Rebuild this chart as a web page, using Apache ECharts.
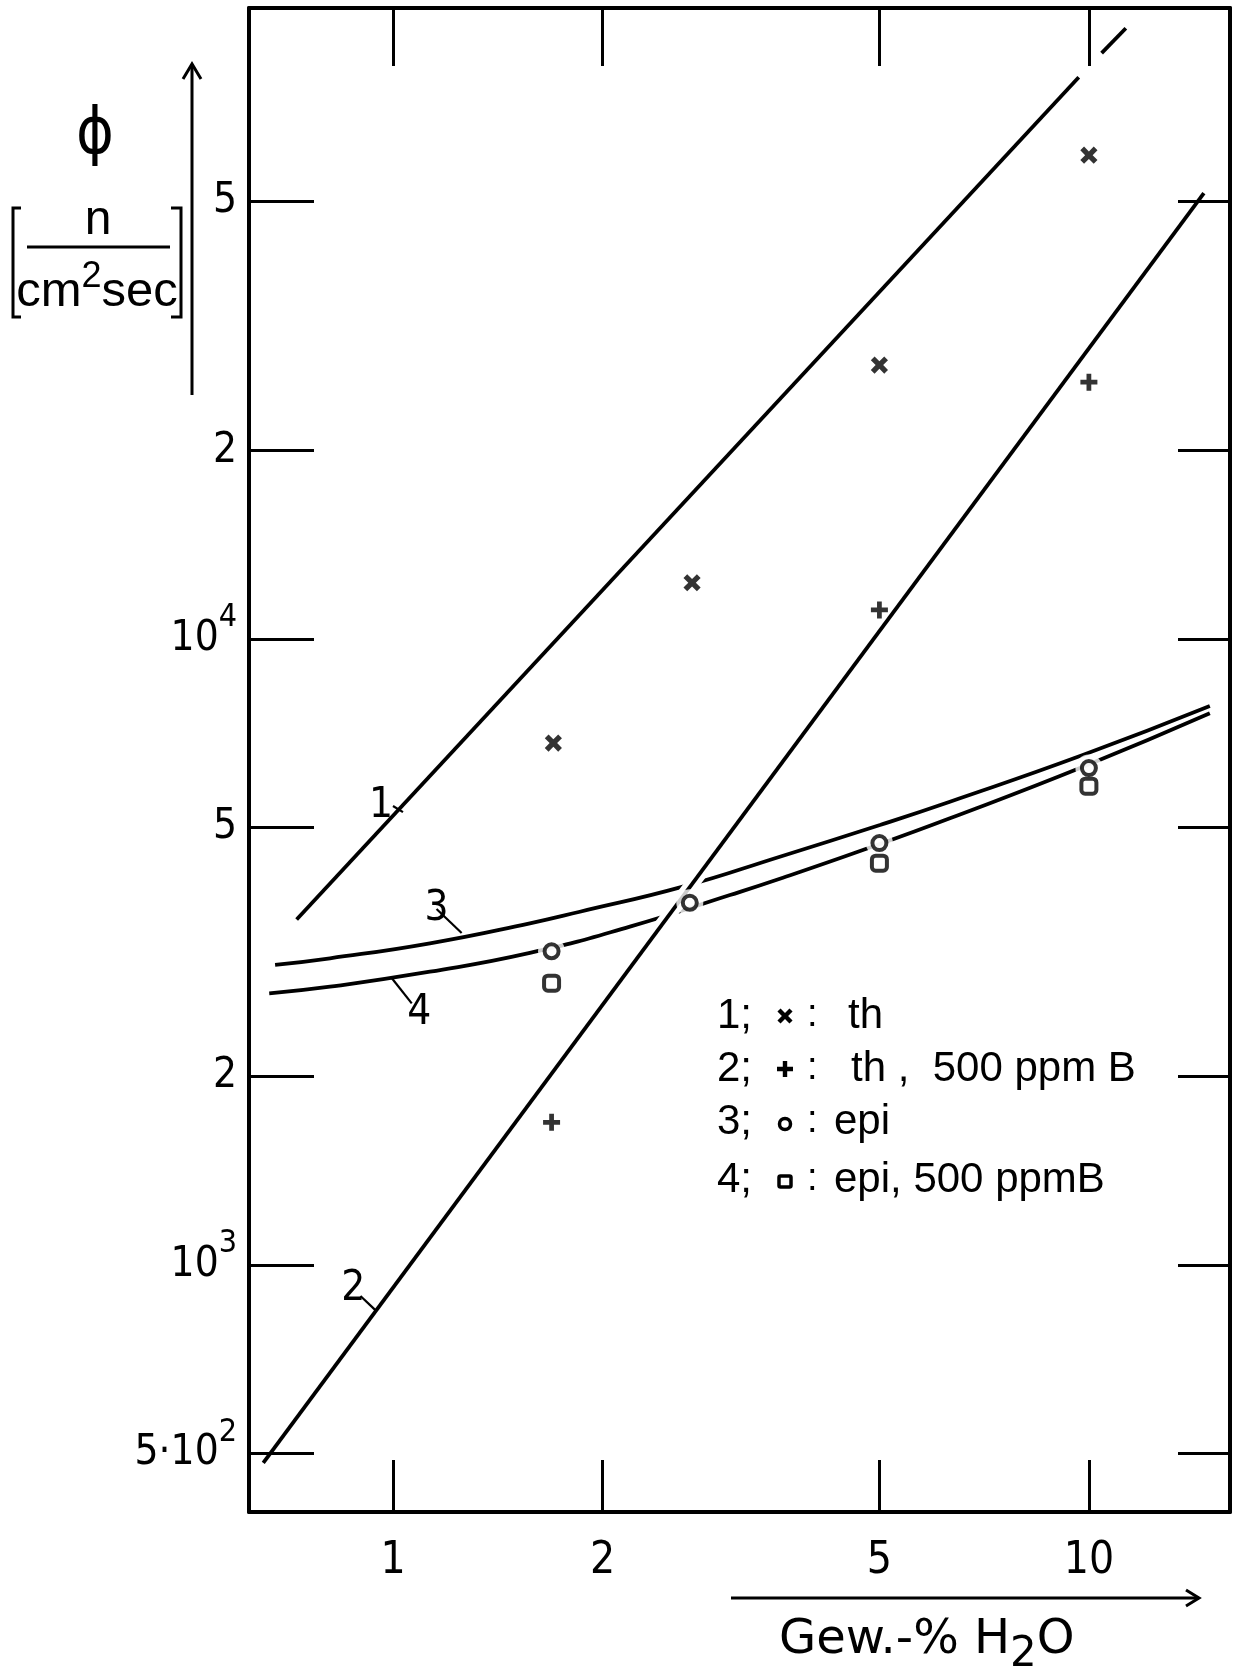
<!DOCTYPE html>
<html>
<head>
<meta charset="utf-8">
<title>Neutronenfluss in Abhängigkeit vom Wassergehalt</title>
<script src="https://cdn.jsdelivr.net/npm/echarts@6/dist/echarts.min.js"></script>
<style>
  html, body { margin: 0; padding: 0; background: #fff; }
  #chart { width: 1234px; height: 1673px; }
</style>
</head>
<body>
<div id="chart"></div>
<script>
// ---- axes: water content (Gew.-% H2O) and neutron flux, both logarithmic ----
const xRange = [0.621, 15.95];
const xTicks = [1, 2, 5, 10];
const xTickLabels = ['1', '2', '5', '10'];

const yRange = [403, 101900];
const yTicks = [500, 1000, 2000, 5000, 10000, 20000, 50000];
const yTickLabels = ['5·10^2', '10^3', '2', '5', '10^4', '2', '5'];

// ---- measured fluxes ----
// 1; x : thermal
const thX = [1.70, 2.69, 5.0, 10.0];
const thY = [6820, 12300, 27400, 59300];
// 2; + : thermal, 500 ppm B
const thBX = [1.69, 5.0, 10.0];
const thBY = [1690, 11130, 25730];
// 3; o : epithermal
const epiX = [1.69, 2.67, 5.0, 10.0];
const epiY = [3170, 3790, 4720, 6220];
// 4; square : epithermal, 500 ppm B
const epiBX = [1.69, 5.0, 10.0];
const epiBY = [2820, 4385, 5820];

// ---- drawn curves ----
// curve 1 is interrupted where it meets the upper tick at 10
const curve1aX = [0.727, 9.67];
const curve1aY = [3563, 79000];
const curve1bX = [10.43, 11.30];
const curve1bY = [86300, 94600];
const curve2X = [0.651, 14.63];
const curve2Y = [483, 51580];
const curve3X = [0.677, 0.812, 1.130, 1.573, 1.856, 2.610, 3.597, 5.009, 6.314, 9.80, 14.92];
const curve3Y = [3015, 3090, 3265, 3514, 3667, 4021, 4490, 5046, 5497, 6526, 7816];
const curve4X = [0.664, 0.812, 1.130, 1.573, 2.190, 3.050, 3.597, 4.734, 6.314, 9.87, 14.92];
const curve4Y = [2716, 2783, 2941, 3151, 3471, 3899, 4140, 4601, 5171, 6267, 7608];

// ---- curve number tags: leader from the curve out to the number ----
const tag1 = [[1.0336, 5290], [1.0, 5410]];
const tag2 = [[0.9434, 847], [0.898, 892]];
const tag3 = [[1.255, 3392], [1.155, 3705]];
const tag4 = [[0.9957, 2874], [1.064, 2618]];

const NARROW = '"Liberation Sans Narrow", "DejaVu Sans Condensed", sans-serif';
const SANS = '"Liberation Sans", Arial, sans-serif';
const WIDE = '"DejaVu Sans", sans-serif';
const INK = '#000';

const lg = v => Math.log10(v);
const pairs = (xs, ys) => xs.map((x, i) => [x, ys[i]]);
const lookup = (ticks, labels) => v => {
  const i = ticks.findIndex(t => Math.abs(lg(t) - v) < 1e-6);
  return i < 0 ? '' : labels[i];
};
const xLabelOf = lookup(xTicks, xTickLabels);
const yLabelOf = lookup(yTicks, yTickLabels);

function tagLine(seg, text, dist) {
  return {
    silent: true,
    symbol: ['none', 'none'],
    animation: false,
    lineStyle: { color: INK, width: 2.2, type: 'solid' },
    label: {
      show: true, position: 'end', distance: dist, formatter: text,
      fontFamily: NARROW, fontSize: 42, color: INK
    },
    emphasis: { disabled: true },
    data: [[{ coord: seg[0] }, { coord: seg[1] }]]
  };
}

const lineStyleMain = { color: INK, width: 3.8 };
const plusPath = 'path://M3.6,0H6.4V3.6H10V6.4H6.4V10H3.6V6.4H0V3.6H3.6Z';

const axisCommon = {
  type: 'value',
  z: 10,
  splitLine: { show: false },
  axisLine: { show: true, onZero: false, lineStyle: { color: INK, width: 4 } }
};

// cross-shaped polygon for the key, half-size h, half arm width w
const crossPts = (h, w) => [[-w, -h], [w, -h], [w, -w], [h, -w], [h, w], [w, w], [w, h], [-w, h], [-w, w], [-h, w], [-h, -w], [-w, -w]];
const keyText = (x, y, text, font) => ({ type: 'text', x, y, style: { text, font, fill: INK, verticalAlign: 'middle' } });
const keyRows = [1016, 1069, 1122, 1180];

const chart = echarts.init(document.getElementById('chart'), null, { renderer: 'canvas' });

chart.setOption({
  animation: false,
  backgroundColor: '#fff',
  grid: { left: 249, right: 4, top: 8, bottom: 161, containLabel: false },
  xAxis: [
    { type: 'log', logBase: 10, min: xRange[0], max: xRange[1], show: false, position: 'bottom' },
    Object.assign({}, axisCommon, {
      position: 'bottom', min: lg(xRange[0]), max: lg(xRange[1]),
      axisTick: { show: true, inside: true, length: 52, customValues: xTicks.map(lg),
        lineStyle: { color: INK, width: 3 } },
      axisLabel: { show: true, customValues: xTicks.map(lg), margin: 28, formatter: xLabelOf,
        fontFamily: NARROW, fontSize: 44, color: INK }
    }),
    Object.assign({}, axisCommon, {
      position: 'top', min: lg(xRange[0]), max: lg(xRange[1]),
      axisTick: { show: true, inside: true, length: 58, customValues: xTicks.map(lg),
        lineStyle: { color: INK, width: 3 } },
      axisLabel: { show: false }
    })
  ],
  yAxis: [
    { type: 'log', logBase: 10, min: yRange[0], max: yRange[1], show: false, position: 'left' },
    Object.assign({}, axisCommon, {
      position: 'left', min: lg(yRange[0]), max: lg(yRange[1]),
      axisTick: { show: true, inside: true, length: 65, customValues: yTicks.map(lg),
        lineStyle: { color: INK, width: 3 } },
      axisLabel: {
        show: true, customValues: yTicks.map(lg), margin: 12,
        formatter: v => {
          const [b, e] = yLabelOf(v).split('^');
          return e ? `{b|${b}}{s|${e}}` : `{b|${b}}`;
        },
        rich: {
          b: { fontFamily: NARROW, fontSize: 42, color: INK },
          s: { fontFamily: NARROW, fontSize: 32, color: INK, padding: [0, 0, 42, 0] }
        }
      }
    }),
    Object.assign({}, axisCommon, {
      position: 'right', min: lg(yRange[0]), max: lg(yRange[1]),
      axisTick: { show: true, inside: true, length: 52, customValues: yTicks.map(lg),
        lineStyle: { color: INK, width: 3 } },
      axisLabel: { show: false }
    })
  ],
  series: [
    { name: 'Kurve 3', type: 'line', smooth: true, symbol: 'none', z: 2,
      data: pairs(curve3X, curve3Y), lineStyle: lineStyleMain, markLine: tagLine(tag3, '3', 0) },
    { name: 'Kurve 4', type: 'line', smooth: true, symbol: 'none', z: 2,
      data: pairs(curve4X, curve4Y), lineStyle: lineStyleMain, markLine: tagLine(tag4, '4', 12) },
    // white casing so the flatter curves break where curve 2 crosses them
    { name: 'Kurve 2 Rand', type: 'line', symbol: 'none', z: 3, silent: true,
      data: pairs(curve2X, curve2Y), lineStyle: { color: '#fff', width: 14 } },
    { name: 'Kurve 2', type: 'line', symbol: 'none', z: 4,
      data: pairs(curve2X, curve2Y), lineStyle: lineStyleMain, markLine: tagLine(tag2, '2', 10) },
    { name: 'Kurve 1', type: 'line', symbol: 'none', z: 4,
      data: pairs(curve1aX, curve1aY), lineStyle: lineStyleMain, markLine: tagLine(tag1, '1', 0) },
    { name: 'Kurve 1b', type: 'line', symbol: 'none', z: 4,
      data: pairs(curve1bX, curve1bY), lineStyle: lineStyleMain },
    // white halo behind the open circles
    { name: 'epi Rand', type: 'scatter', symbol: 'circle', symbolSize: 27, z: 5, silent: true,
      data: pairs(epiX, epiY), itemStyle: { color: '#fff' } },
    { name: 'th', type: 'scatter', symbol: plusPath, symbolRotate: 45, symbolSize: 19, z: 6,
      data: pairs(thX, thY), itemStyle: { color: INK } },
    { name: 'th, 500 ppm B', type: 'scatter', symbol: plusPath, symbolSize: 17, z: 6,
      data: pairs(thBX, thBY), itemStyle: { color: INK } },
    { name: 'epi', type: 'scatter', symbol: 'circle', symbolSize: 14, z: 6,
      data: pairs(epiX, epiY), itemStyle: { color: '#fff', borderColor: INK, borderWidth: 4 } },
    { name: 'epi, 500 ppm B', type: 'scatter', symbol: 'roundRect', symbolSize: 15, z: 6,
      data: pairs(epiBX, epiBY), itemStyle: { color: '#fff', borderColor: INK, borderWidth: 4 } }
  ],
  graphic: [
    // axis title: flux phi with unit and arrow
    { type: 'text', z: 20, x: 95, y: 136,
      style: { text: 'ϕ', font: `64px ${NARROW}`, fill: INK, align: 'center', verticalAlign: 'middle' } },
    { type: 'polyline', z: 20, shape: { points: [[21, 208], [13, 208], [13, 317], [21, 317]] },
      style: { stroke: INK, lineWidth: 3, fill: null } },
    { type: 'polyline', z: 20, shape: { points: [[171, 208], [181, 208], [181, 317], [171, 317]] },
      style: { stroke: INK, lineWidth: 3, fill: null } },
    { type: 'line', z: 20, shape: { x1: 27, y1: 247, x2: 170, y2: 247 },
      style: { stroke: INK, lineWidth: 3 } },
    { type: 'text', z: 20, x: 98, y: 221,
      style: { text: 'n', font: `48px ${SANS}`, fill: INK, align: 'center', verticalAlign: 'middle' } },
    { type: 'text', z: 20, x: 97, y: 292,
      style: {
        text: '{a|cm}{b|2}{a|sec}', align: 'center', verticalAlign: 'middle',
        rich: {
          a: { fontFamily: SANS, fontSize: 49, fill: INK },
          b: { fontFamily: SANS, fontSize: 36, fill: INK, padding: [0, 0, 30, 0] }
        }
      } },
    { type: 'line', z: 20, shape: { x1: 192, y1: 395, x2: 192, y2: 64 },
      style: { stroke: INK, lineWidth: 3 } },
    { type: 'polyline', z: 20, shape: { points: [[183, 79], [192, 64], [201, 79]] },
      style: { stroke: INK, lineWidth: 3, fill: null } },

    // axis title: water content with arrow
    { type: 'line', z: 20, shape: { x1: 731, y1: 1598, x2: 1199, y2: 1598 },
      style: { stroke: INK, lineWidth: 3 } },
    { type: 'polyline', z: 20, shape: { points: [[1186, 1590], [1199, 1598], [1186, 1606]] },
      style: { stroke: INK, lineWidth: 3, fill: null } },
    { type: 'text', z: 20, x: 779, y: 1641,
      style: {
        text: '{t|Gew.-% H}{s|2}{t|O}', verticalAlign: 'middle',
        rich: {
          t: { fontFamily: WIDE, fontSize: 48, fill: INK },
          s: { fontFamily: WIDE, fontSize: 42, fill: INK, padding: [28, 0, 0, 0] }
        }
      } },

    // key
    { type: 'group', z: 20, children: [
      keyText(717, keyRows[0], '1;', `42px ${SANS}`),
      keyText(717, keyRows[1], '2;', `42px ${SANS}`),
      keyText(717, keyRows[2], '3;', `42px ${SANS}`),
      keyText(717, keyRows[3], '4;', `42px ${SANS}`),

      { type: 'polygon', x: 785, y: keyRows[0], rotation: Math.PI / 4, style: { fill: INK },
        shape: { points: crossPts(8.5, 2.2) } },
      { type: 'polygon', x: 785, y: keyRows[1], style: { fill: INK },
        shape: { points: crossPts(8, 2.2) } },
      { type: 'circle', shape: { cx: 785, cy: keyRows[2] + 2, r: 5.5 }, style: { fill: '#fff', stroke: INK, lineWidth: 3.5 } },
      { type: 'rect', shape: { x: 779, y: keyRows[3] - 4, width: 12, height: 11, r: 1.5 }, style: { fill: '#fff', stroke: INK, lineWidth: 3.5 } },

      keyText(807, keyRows[0], ':', `38px ${SANS}`),
      keyText(807, keyRows[1], ':', `38px ${SANS}`),
      keyText(807, keyRows[2], ':', `38px ${SANS}`),
      keyText(807, keyRows[3], ':', `38px ${SANS}`),

      keyText(848, keyRows[0], 'th', `42px ${SANS}`),
      keyText(851, keyRows[1], 'th ,  500 ppm B', `42px ${SANS}`),
      keyText(834, keyRows[2], 'epi', `42px ${SANS}`),
      keyText(834, keyRows[3], 'epi, 500 ppmB', `42px ${SANS}`)
    ] }
  ]
});
</script>
</body>
</html>
